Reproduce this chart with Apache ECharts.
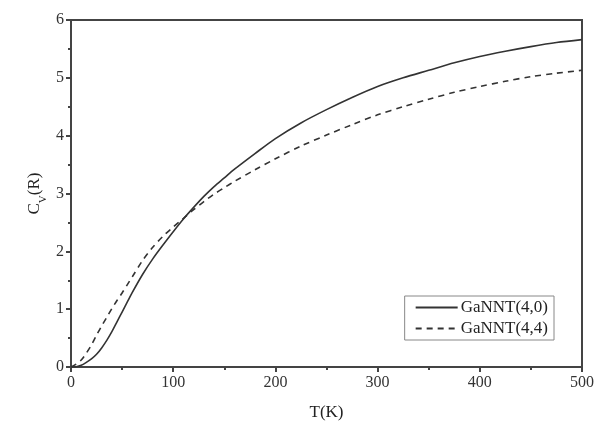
<!DOCTYPE html>
<html>
<head>
<meta charset="utf-8">
<script src="https://cdn.jsdelivr.net/npm/echarts@6/dist/echarts.min.js"></script>
<style>
html,body{margin:0;padding:0;background:#fff;}
#chart{width:598px;height:426px;}
</style>
</head>
<body>
<div id="chart"></div>
<script>
var temps = [0,5,10,15,20,25,30,35,40,45,50,55,60,70,80,90,100,110,120,130,140,150,160,180,200,225,250,275,300,325,350,375,400,425,450,475,500];
var cvGaNNT40 = [0,0.005,0.03,0.08,0.14,0.22,0.33,0.46,0.61,0.78,0.95,1.12,1.29,1.6,1.87,2.11,2.34,2.56,2.76,2.95,3.12,3.27,3.42,3.69,3.95,4.22,4.45,4.66,4.85,5.0,5.13,5.26,5.37,5.46,5.54,5.61,5.66];
var cvGaNNT44 = [0,0.05,0.12,0.24,0.38,0.55,0.71,0.86,1.01,1.15,1.28,1.42,1.56,1.84,2.07,2.26,2.42,2.57,2.72,2.86,2.99,3.1,3.21,3.41,3.6,3.82,4.01,4.19,4.36,4.5,4.63,4.75,4.85,4.94,5.02,5.08,5.13];
var seriesNames = ['GaNNT(4,0)','GaNNT(4,4)'];
var xTicks = [0,100,200,300,400,500];
var yTicks = [0,1,2,3,4,5,6];

function pairs(xs, ys){ return xs.map(function(x,i){ return [x, ys[i]]; }); }

var chart = echarts.init(document.getElementById('chart'));
var serif = '"Liberation Serif","DejaVu Serif",serif';
var axisCol = '#444';
chart.setOption({
  animation:false,
  backgroundColor:'#fff',
  grid:{left:71,right:16,top:20,bottom:51,show:true,borderColor:axisCol,borderWidth:2,backgroundColor:'transparent'},
  legend:{
    right:44, top:296, orient:'vertical', align:'left',
    itemWidth:42, itemHeight:14, itemGap:4,
    padding:[3,6,3,10],
    borderColor:'#888', borderWidth:1,
    itemStyle:{opacity:0},
    textStyle:{fontFamily:serif,fontSize:17,color:'#222',padding:[0,0,0,-2]},
    data:seriesNames
  },
  xAxis:{
    type:'value', min:xTicks[0], max:xTicks[xTicks.length-1], interval:100,
    name:'T(K)', nameLocation:'middle', nameGap:37,
    nameTextStyle:{fontFamily:serif,fontSize:17,color:'#222'},
    axisLine:{show:true,lineStyle:{color:axisCol,width:2}},
    axisTick:{show:true,inside:false,length:5,lineStyle:{color:axisCol,width:2}},
    minorTick:{show:true,splitNumber:2,length:3,lineStyle:{color:axisCol,width:2}},
    splitLine:{show:false},
    axisLabel:{fontFamily:serif,fontSize:16,color:'#333',margin:8}
  },
  yAxis:{
    type:'value', min:yTicks[0], max:yTicks[yTicks.length-1], interval:1,
    name:'{a|C}{s|V}{a|(R)}', nameLocation:'middle', nameGap:28, nameRotate:90,
    nameMoveOverlap:false,
    nameTextStyle:{fontFamily:serif,fontSize:17,color:'#222',
      rich:{a:{fontFamily:serif,fontSize:17,color:'#222'},s:{fontFamily:serif,fontSize:11,color:'#222',verticalAlign:'bottom',padding:[0,0,-6,0]}}},
    axisLine:{show:true,lineStyle:{color:axisCol,width:2}},
    axisTick:{show:true,inside:false,length:5,lineStyle:{color:axisCol,width:2}},
    minorTick:{show:true,splitNumber:2,length:3,lineStyle:{color:axisCol,width:2}},
    splitLine:{show:false},
    axisLabel:{fontFamily:serif,fontSize:16,color:'#333',margin:7}
  },
  series:[
    {name:seriesNames[0],type:'line',smooth:0.3,symbol:'none',data:pairs(temps,cvGaNNT40),
     lineStyle:{color:'#333',width:1.6,type:'solid'},itemStyle:{color:'#333'}},
    {name:seriesNames[1],type:'line',smooth:0.3,symbol:'none',data:pairs(temps,cvGaNNT44),
     lineStyle:{color:'#333',width:1.6,type:[6,5]},itemStyle:{color:'#333'}}
  ]
});
</script>
</body>
</html>
